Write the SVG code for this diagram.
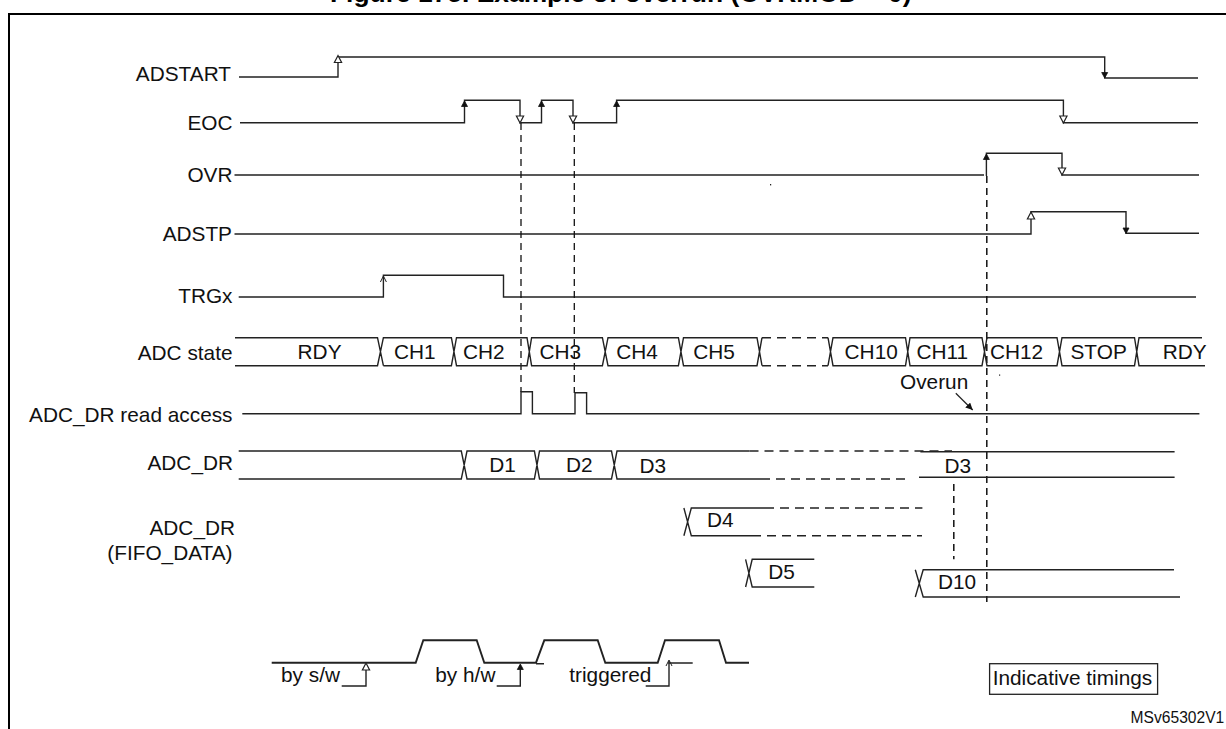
<svg xmlns="http://www.w3.org/2000/svg" xmlns:xlink="http://www.w3.org/1999/xlink" width="1226" height="729" viewBox="0 0 1226 729">
<style>
text{font-family:"Liberation Sans",Arial,sans-serif;font-size:20.8px;fill:#111}
.r{text-anchor:end}
.w{fill:none;stroke:#222;stroke-width:1.4}
.d{fill:none;stroke:#222;stroke-width:1.4;stroke-dasharray:9 6}
.g{fill:none;stroke:#111;stroke-width:1.3;stroke-dasharray:7 5}
.v{fill:none;stroke:#111;stroke-width:1.5;stroke-dasharray:7 5}
.l{fill:none;stroke:#222;stroke-width:1.9}
text.t{font-weight:bold;font-size:26.4px;fill:#000}
</style>
<defs>
<path id="su" d="M0 0L3 5.5H-3Z" fill="#111" stroke="#111" stroke-width=".8"/>
<path id="sd" d="M0 0L3 -5.5H-3Z" fill="#111" stroke="#111" stroke-width=".8"/>
<path id="ou" d="M0 0L3.6 7H-3.6Z" fill="#fff" stroke="#222" stroke-width="1.2"/>
<path id="od" d="M0 0L3.6 -7H-3.6Z" fill="#fff" stroke="#222" stroke-width="1.2"/>
<path id="vu" d="M-3 6L0 0L3 6" fill="none" stroke="#222" stroke-width="1"/>
<marker id="ar" markerWidth="8" markerHeight="8" refX="7" refY="3.5" orient="auto" markerUnits="userSpaceOnUse"><path d="M0 0L7 3.5L0 7Z" fill="#111"/></marker>
</defs>
<text class="t" x="330" y="2">Figure 175. Example of overrun (OVRMOD = 0)</text>
<path d="M9 729V14H1226" fill="none" stroke="#000" stroke-width="2"/>

<g id="adstart">
<text class="r" x="231" y="80.5">ADSTART</text>
<path class="w" d="M239 77H338V57H1104.7V78H1198"/>
<use xlink:href="#ou" x="338" y="55.5"/>
<use xlink:href="#sd" x="1104.7" y="78"/>
</g>
<g id="eoc">
<text class="r" x="232.5" y="129.8">EOC</text>
<path class="w" d="M240 122.7H464.5V100.3H520V122.7H541.5V100.3H573V122.7H616.6V100.3H1063.4V122.7H1198"/>
<use xlink:href="#su" x="464.5" y="101"/>
<use xlink:href="#od" x="520" y="123"/>
<use xlink:href="#su" x="541.5" y="101"/>
<use xlink:href="#od" x="573" y="123"/>
<use xlink:href="#su" x="616.6" y="101"/>
<use xlink:href="#od" x="1063.4" y="123"/>
</g>
<g id="ovr">
<text class="r" x="232.5" y="181.7">OVR</text>
<path class="w" d="M234.5 175H984M986.4 176V153.3H1062V175H1199"/>
<use xlink:href="#su" x="986.4" y="154"/>
<use xlink:href="#od" x="1062" y="175"/>
</g>
<g id="adstp">
<text class="r" x="232" y="240.7">ADSTP</text>
<path class="w" d="M234.5 234H1031V211.7H1126V233.3H1199"/>
<use xlink:href="#ou" x="1031" y="212"/>
<use xlink:href="#sd" x="1126" y="233.5"/>
</g>
<g id="trgx">
<text class="r" x="232.5" y="303.3">TRGx</text>
<path class="w" d="M238.7 297H383.4V275.3H503.5V297H1196"/>
<use xlink:href="#vu" x="383.4" y="276"/>
</g>

<g id="connectors">
<path class="g" d="M521 123V392"/>
<path class="g" d="M574.3 123V393"/>
<path class="v" d="M986.8 176V602"/>
<path class="v" d="M953.8 484V559.3"/>
<path d="M955.8 393.3L972.7 410" fill="none" stroke="#222" stroke-width="1.2" marker-end="url(#ar)"/>
</g>

<g id="adc-state">
<text class="r" x="232.5" y="360">ADC state</text>
<path class="w" d="M235 337.7H377.5L383.4 365.7M235 365.7H377.5L383.4 337.7H451.4L456.5 365.7H527L531.6 337.7H602.4L608 365.7H678.4L683.5 337.7H757L762 365.7M383.4 365.7H451.4L456.5 337.7H527L531.6 365.7H602.4L608 337.7H678.4L683.5 365.7H757L762 337.7M828 337.7L833 365.7H905.5L910 337.7H982L987 365.7H1057L1062 337.7H1134.5L1139 365.7H1205M828 365.7L833 337.7H905.5L910 365.7H982L987 337.7H1057L1062 365.7H1134.5L1139 337.7H1202"/>
<path class="d" d="M762 337.7H828M762 365.7H828"/>
<text x="297.6" y="359">RDY</text>
<text x="394" y="359">CH1</text>
<text x="463" y="359">CH2</text>
<text x="539.5" y="359">CH3</text>
<text x="616.3" y="359">CH4</text>
<text x="693.3" y="359">CH5</text>
<text x="844.6" y="359">CH10</text>
<text x="916.5" y="359">CH11</text>
<text x="990" y="359">CH12</text>
<text x="1070.5" y="359">STOP</text>
<text x="1162.8" y="359">RDY</text>
<rect x="999" y="374.5" width="1.2" height="1.2" fill="#222"/>
<rect x="770" y="184" width="1.2" height="1.4" fill="#222"/>
</g>

<g id="adc-dr-read">
<text class="r" x="232.5" y="421.7">ADC_DR read access</text>
<path class="w" d="M242.3 413.7H521V391.7H532.4V413.7H575V392.7H586.6V413.7H1199.4"/>
<text x="900" y="389.3">Overun</text>
</g>

<g id="adc-dr">
<text class="r" x="233" y="470">ADC_DR</text>
<path class="w" d="M238.7 451H461.3L467 479H534.4L539.5 451H611.5L617 479H761M238.7 479H461.3L467 451H534.4L539.5 479H611.5L617 451H749.5M920.4 451.7H1174.6M919 477.3H1174.6"/>
<path class="d" d="M749.5 451H952M761 479H908.6"/>
<text x="489.3" y="471.7">D1</text>
<text x="566" y="471.7">D2</text>
<text x="639.5" y="472.7">D3</text>
<text x="944.4" y="473">D3</text>
</g>

<g id="fifo">
<text class="r" x="235" y="535">ADC_DR</text>
<text class="r" x="232.5" y="560">(FIFO_DATA)</text>
<path class="w" d="M683.9 508L691.3 535.7H752M683.9 535.7L691.3 508H765"/>
<path class="d" d="M765 508H922.4M752 535.7H922"/>
<text x="707" y="527.3">D4</text>
<path class="w" d="M745.6 559.3L752.2 587H814.3M745.6 587L752.2 559.3H814.3"/>
<text x="768.3" y="579.3">D5</text>
<path class="w" d="M915.3 569.7L923.2 597H1180M915.3 597L923.2 569.7H1174"/>
<text x="938" y="589.3">D10</text>
</g>

<g id="legend">
<path class="l" d="M271.7 662.7H415.7L423.3 640.3H476.7L484.3 662.7H536L544.3 640.3H597.7L605.3 662.7H657.7L665 640.3H719L726 662.7H749"/>
<path class="w" d="M536 663.7H544M668.3 663H692.7"/>
<text x="281" y="681.7">by s/w</text>
<path class="w" d="M341.7 686H366V664"/>
<use xlink:href="#ou" x="366" y="663"/>
<text x="435.3" y="681.7">by h/w</text>
<path class="w" d="M496.7 686H520.3V665"/>
<use xlink:href="#su" x="520.3" y="664"/>
<text x="569.3" y="681.7">triggered</text>
<path class="w" d="M645.7 686H669V661"/>
<use xlink:href="#vu" x="669" y="660"/>
</g>

<g id="indicative">
<rect x="989.6" y="663.7" width="168" height="30.6" fill="none" stroke="#222" stroke-width="1.3"/>
<text x="992.7" y="685">Indicative timings</text>
</g>
<text x="1130.6" y="722.7" style="font-size:15.6px">MSv65302V1</text>
</svg>
